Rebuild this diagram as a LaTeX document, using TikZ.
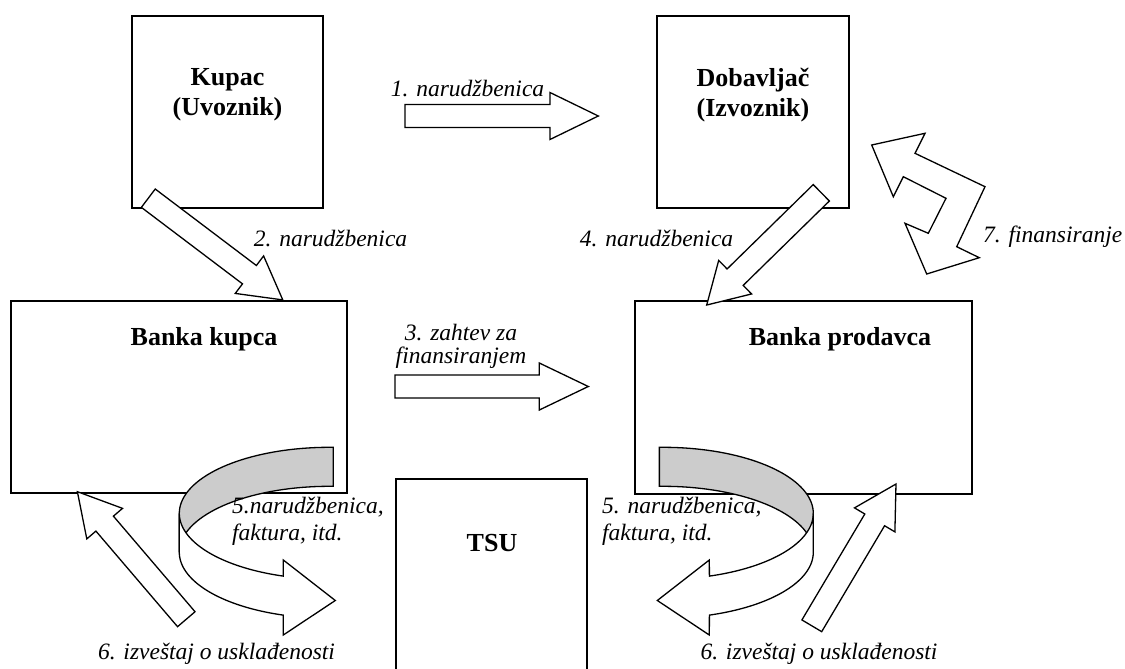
\documentclass[tikz,border=0pt]{standalone}
\usepackage{fontspec}
\setmainfont{Liberation Serif}
\usepackage{xcolor}
\definecolor{ribbon}{gray}{0.8}

\tikzset{
box/.style={draw, line width=1.6pt, inner sep=0pt},
title/.style={font=\fontsize{26}{30}\selectfont\bfseries, align=center, inner sep=0pt},
lbl/.style={font=\fontsize{23.5}{27}\selectfont\itshape, inner sep=0pt},
blockarr/.style={draw, fill=white, line width=1.3pt, line join=miter},
}

% straight block arrow: tail centre, angle, length, head length
\newcommand{\blockarrow}[4]{%
\draw[blockarr, shift={(#1)}, rotate=#2] (0,-11.5) -- ({#3-#4},-11.5) -- ({#3-#4},-23.5)
  -- (#3,0) -- ({#3-#4},23.5) -- ({#3-#4},11.5) -- (0,11.5) -- cycle;}

% curled ribbon arrow: centre x, side (1 = turns right, -1 = turns left)
\newcommand{\ribbonarrow}[2]{%
\draw[blockarr, fill=ribbon] plot[domain=88.5:180, samples=40] ({#1+#2*150*cos(\x)},{513.3-66*sin(\x)})
  -- plot[domain=180:88.5, samples=40] ({#1+#2*150*cos(\x)},{552.3-66*sin(\x)}) -- cycle;
\draw[blockarr] plot[domain=180:252.1, samples=40] ({#1+#2*150*cos(\x)},{513.3-66*sin(\x)})
  -- ({#1-#2*46},560) -- ({#1+#2*6},600.5) -- ({#1-#2*46},635)
  -- plot[domain=252.1:180, samples=40] ({#1+#2*150*cos(\x)},{552.3-66*sin(\x)}) -- cycle;}

\begin{document}
\begin{tikzpicture}[x=1pt, y=-1pt]
\useasboundingbox (0,0) rectangle (1125,669);
\clip (0,0) rectangle (1125,669);

% parties
\node [box, minimum width=191pt, minimum height=192pt] (kupac) at (227.5,112) {};
\node [box, minimum width=192pt, minimum height=192pt] (dobavljac) at (753,112) {};
\node [box, minimum width=336pt, minimum height=192pt] (bankaK) at (179,397) {};
\node [box, minimum width=337pt, minimum height=193pt] (bankaP) at (803.5,397.5) {};
\node [box, minimum width=191pt, minimum height=221pt] (tsu) at (491.5,589.5) {};

\node [title] (tKupac) at (227.5,95) {Kupac\\(Uvoznik)};
\node [title] (tDobavljac) at (753,95) {Dobavljač\\(Izvoznik)};
\node [title] (tBankaK) at (204,339) {Banka kupca};
\node [title] (tBankaP) at (840,339) {Banka prodavca};
\node [title] (tTsu) at (492,543) {TSU};

% flows
\blockarrow{405,116}{0}{193.3}{48.3}
\blockarrow{148.3,198.2}{-37.1}{168.6}{41.8}
\blockarrow{395,386.5}{0}{193.3}{49}
\blockarrow{821.3,192.8}{-135.6}{160.4}{39.8}
\blockarrow{186.3,619.2}{130.5}{167.7}{42}
\blockarrow{811.8,625.8}{59.3}{164.9}{41.7}

\ribbonarrow{329.3}{1}
\ribbonarrow{663.3}{-1}

% financing, two heads
\draw[blockarr] (871.7,145) -- (925,133.3) -- (915,153.3) -- (985,186.7) -- (956.7,246.7)
  -- (979.3,257.7) -- (926.7,274) -- (905,223.3) -- (928.3,233.3) -- (946,198.3)
  -- (903.3,176.7) -- (893.3,196.7) -- cycle;

% labels
\node [lbl] (l1) at (467.5,88) {1. narudžbenica};
\node [lbl] (l2) at (330.5,238) {2. narudžbenica};
\node [lbl, align=center, font=\fontsize{23.5}{23}\selectfont\itshape] (l3) at (461,346.5) {3. zahtev za\\finansiranjem};
\node [lbl] (l4) at (656.5,238) {4. narudžbenica};
\node [lbl, align=left, anchor=west] (l5a) at (232,521.5) {5.narudžbenica,\\faktura, itd.};
\node [lbl, align=left, anchor=west] (l5b) at (602,521.5) {5. narudžbenica,\\faktura, itd.};
\node [lbl] (l6a) at (216.5,654) {6. izveštaj o usklađenosti};
\node [lbl] (l6b) at (819,654) {6. izveštaj o usklađenosti};
\node [lbl, anchor=west] (l7) at (983,237) {7. finansiranje};
\end{tikzpicture}
\end{document}
